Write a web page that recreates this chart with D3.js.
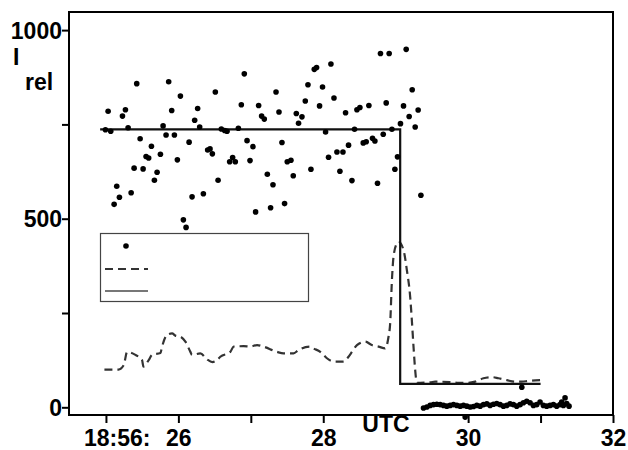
<!DOCTYPE html>
<html><head><meta charset="utf-8">
<script src="https://cdn.jsdelivr.net/npm/d3@7"></script>
<style>
body{margin:0;background:#fff}
text{font-family:"Liberation Sans",Arial,sans-serif;font-weight:bold;fill:#000}
</style>
</head><body><svg id="c" width="628" height="450"></svg>
<script>
// ---- data ----
const scatterTimes = [
24.993,25.030,25.066,25.113,25.149,25.186,25.228,25.269,25.306,25.348,
25.389,25.425,25.472,25.513,25.554,25.590,25.628,25.669,25.706,25.752,
25.789,25.830,25.866,25.908,25.945,25.986,26.028,26.069,26.106,26.148,
26.189,26.225,26.266,26.294,26.345,26.404,26.437,26.469,26.510,26.548,
26.593,26.639,26.672,26.708,26.749,26.786,26.828,26.869,26.910,26.948,
26.989,27.030,27.066,27.108,27.149,27.186,27.228,27.273,27.306,27.348,
27.389,27.430,27.466,27.503,27.554,27.586,27.628,27.659,27.706,27.752,
27.789,27.830,27.876,27.908,27.949,27.990,28.032,28.073,28.106,28.148,
28.189,28.230,28.272,28.308,28.349,28.396,28.432,28.465,28.506,28.552,
28.593,28.630,28.680,28.713,28.749,28.790,28.828,28.869,28.910,28.948,
28.989,29.025,29.066,29.108,29.145,29.186,29.228,29.269,29.310,29.348,
29.384,29.430,29.476,29.522,29.568,29.614,29.660,29.706,29.752,29.798,
29.844,29.890,29.936,29.982,30.028,30.074,30.120,30.166,30.212,30.258,
30.303,30.349,30.395,30.441,30.487,30.533,30.579,30.625,30.671,30.717,
30.763,30.809,30.855,30.901,30.947,30.993,31.039,31.085,31.131,31.177,
31.223,31.269,31.292,31.315,31.338,31.361,31.393,29.959,30.741];
const scatterValues = [
736,785,732,538,586,557,772,789,741,569,
634,858,712,632,665,661,692,602,623,671,
746,722,863,787,722,656,825,497,477,703,
558,761,792,743,566,682,685,672,836,602,
738,734,732,651,662,651,740,802,884,707,
654,691,518,800,772,764,618,529,590,836,
783,702,540,651,655,614,779,753,770,812,
855,631,896,901,799,849,730,663,910,820,
677,626,677,781,695,601,737,789,795,701,
704,800,713,706,594,938,724,807,938,737,
631,664,752,799,949,771,842,743,788,562,
-2,1,5,7,8,7,5,3,5,7,
5,3,5,3,1,2,5,3,7,9,
5,8,10,7,3,5,9,7,3,7,
12,16,12,5,7,14,5,3,5,7,
3,7,14,5,25,10,3,-26,53];

const dashedTimes = [24.979,25.108,25.172,25.246,25.292,25.407,25.499,25.517,25.590,25.637,
25.752,25.775,25.844,25.913,25.959,26.028,26.097,26.166,26.189,26.303,
26.396,26.469,26.534,26.579,26.717,26.763,26.901,26.993,27.086,27.172,
27.361,27.452,27.590,27.659,27.821,27.866,27.959,28.004,28.051,28.166,
28.280,28.349,28.396,28.465,28.579,28.672,28.763,28.855,28.901,28.924,
28.948,28.970,29.017,29.039,29.108,29.154,29.200,29.223,29.246,29.269,
29.292,29.338,29.476,29.545,29.752,29.866,30.004,30.097,30.211,30.327,
30.418,30.534,30.648,30.740,30.832,30.993];
const dashedValues = [100,100,100,112,147,139,125,108,125,139,
144,161,192,196,190,187,174,147,139,143,
127,120,125,134,147,161,162,161,165,161,
147,143,143,152,161,156,147,139,130,121,
121,134,147,165,174,165,161,156,187,223,
337,399,435,439,417,364,293,231,161,99,
65,65,66,68,67,65,65,68,77,80,
77,72,68,68,70,72];

const stepTimes = [24.92, 29.062, 29.062, 31.0];
const stepValues = [737, 737, 62, 62];

const yTicks = [0, 250, 500, 750, 1000];
const yTickLabels = ["0", "", "500", "", "1000"];
const xTicks = [25, 26, 27, 28, 30, 31, 32];
const xTickLabels = ["18:56:", "26", "", "28", "30", "", "32"];
const yTitle = "I";
const ySub = "rel";
const xTitle = "UTC";

// ---- chart ----
const svg = d3.select("#c");
const L = 69, R = 613, T = 12, B = 415;
const x = d3.scaleLinear().domain([24.49, 32]).range([L, R]);
const y = d3.scaleLinear().domain([-20.4, 1048]).range([B, T]);

// x axis
const xAxis = d3.axisBottom(x).tickValues(xTicks).tickSize(8).tickPadding(7)
  .tickFormat((d, i) => xTickLabels[i]);
const gx = svg.append("g").attr("transform", `translate(0,${B})`).call(xAxis);
gx.select(".domain").remove();
gx.selectAll(".tick line").attr("stroke", "#000").attr("stroke-width", 2);
gx.selectAll(".tick text").attr("font-size", 23).attr("font-family", null);
gx.selectAll(".tick text").filter((d, i) => i === 0)
  .attr("text-anchor", "start").attr("dx", -22.5);

// y axis
const yAxis = d3.axisLeft(y).tickValues(yTicks).tickSize(7).tickPadding(0)
  .tickFormat((d, i) => yTickLabels[i]);
const gy = svg.append("g").attr("transform", `translate(${L},0)`).call(yAxis);
gy.select(".domain").remove();
gy.selectAll(".tick line").attr("stroke", "#000").attr("stroke-width", 2);
gy.selectAll(".tick text").attr("font-size", 23).attr("font-family", null).attr("dy", "0.36em");

// frame
svg.append("rect").attr("x", L).attr("y", T).attr("width", R - L).attr("height", B - T)
  .attr("fill", "none").attr("stroke", "#000").attr("stroke-width", 2);

// titles
svg.append("text").attr("x", 13).attr("y", 65).attr("font-size", 23).text(yTitle);
svg.append("text").attr("x", 25).attr("y", 90).attr("font-size", 23).text(ySub);
svg.append("text").attr("x", 386).attr("y", 432).attr("text-anchor", "middle")
  .attr("font-size", 23).text(xTitle);

// dashed line
const dashed = d3.zip(dashedTimes, dashedValues);
svg.append("path").datum(dashed)
  .attr("d", d3.line().x(d => x(d[0])).y(d => y(d[1])).curve(d3.curveMonotoneX))
  .attr("fill", "none").attr("stroke", "#333").attr("stroke-width", 2.2)
  .attr("stroke-dasharray", "8,5");

// solid step line
const step = d3.zip(stepTimes, stepValues);
svg.append("path").datum(step)
  .attr("d", d3.line().x(d => x(d[0])).y(d => y(d[1])))
  .attr("fill", "none").attr("stroke", "#111").attr("stroke-width", 2.2);

// scatter
const pts = d3.zip(scatterTimes, scatterValues);
svg.append("g").selectAll("circle").data(pts).join("circle")
  .attr("cx", d => x(d[0])).attr("cy", d => y(d[1])).attr("r", 2.8).attr("fill", "#000");

// legend (no text)
const lg = svg.append("g");
lg.append("rect").attr("x", 100.5).attr("y", 233.5).attr("width", 208).attr("height", 68)
  .attr("fill", "#fff").attr("stroke", "#444").attr("stroke-width", 1.2);
lg.append("circle").attr("cx", 126).attr("cy", 246).attr("r", 2.8).attr("fill", "#000");
lg.append("line").attr("x1", 105).attr("x2", 148).attr("y1", 269).attr("y2", 269)
  .attr("stroke", "#333").attr("stroke-width", 2.2).attr("stroke-dasharray", "8,5");
lg.append("line").attr("x1", 105).attr("x2", 148).attr("y1", 291).attr("y2", 291)
  .attr("stroke", "#777").attr("stroke-width", 2.2);
</script>
</body></html>
